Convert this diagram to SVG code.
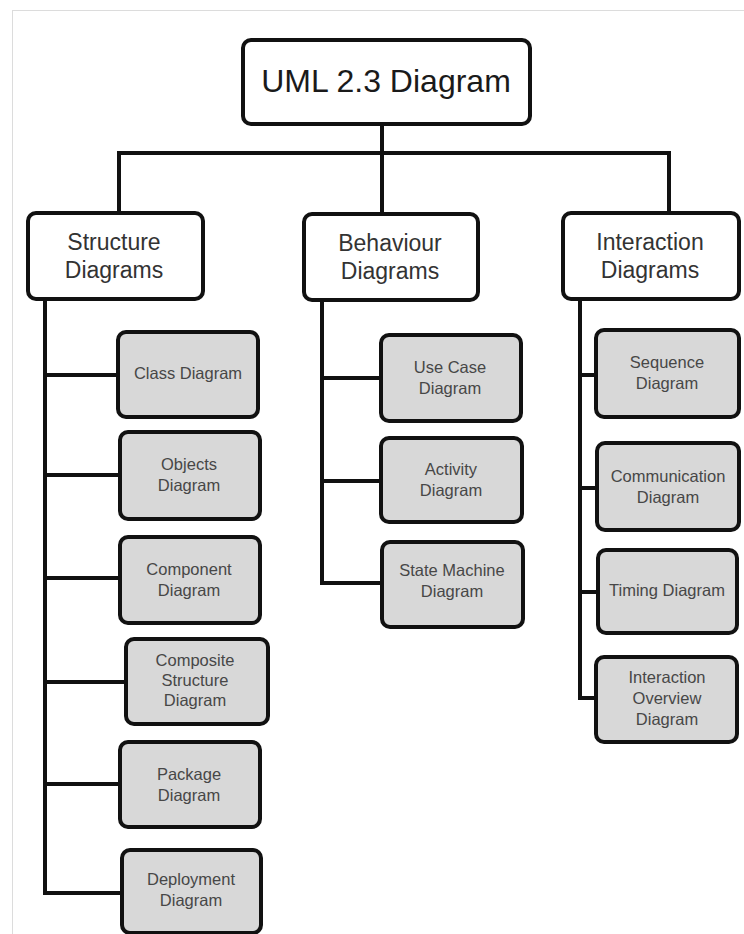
<svg xmlns="http://www.w3.org/2000/svg" width="744" height="934" viewBox="0 0 744 934">
  <style>
    .frame { fill: #ffffff; stroke: #dcdcdc; stroke-width: 1; }
    .box { fill: #ffffff; stroke: #111111; stroke-width: 4; }
    .leaf { fill: #d8d8d8; stroke: #111111; stroke-width: 4; }
    .wire { fill: none; stroke: #111111; stroke-width: 4; stroke-linecap: square; }
    text { font-family: "Liberation Sans", Arial, sans-serif; text-anchor: middle; }
    .title { font-size: 32px; fill: #1a1a1a; }
    .group { font-size: 23px; fill: #333333; }
    .item { font-size: 16.5px; fill: #474747; }
  </style>

  <rect class="frame" x="12.5" y="10.5" width="740" height="930"/>

  <!-- connectors -->
  <g id="connectors">
    <path class="wire" d="M382 124 V153 M119 153 H669 M119 153 V213 M382 153 V213 M669 153 V213"/>
    <!-- structure branch -->
    <path class="wire" d="M45 299 V893 M45 375 H118 M45 475 H120 M45 578 H120 M45 682 H126 M45 784 H120 M45 893 H122"/>
    <!-- behaviour branch -->
    <path class="wire" d="M322 300 V583 M322 378 H381 M322 481 H381 M322 583 H382"/>
    <!-- interaction branch -->
    <path class="wire" d="M580 299 V698 M580 375 H596 M580 488 H597 M580 592 H598 M580 698 H596"/>
  </g>

  <!-- root -->
  <g id="uml">
    <rect class="box" x="243" y="40" width="287" height="84" rx="8"/>
    <text class="title" x="386" y="92">UML 2.3 Diagram</text>
  </g>

  <!-- categories -->
  <g id="structure">
    <rect class="box" x="28" y="213" width="175" height="86" rx="8"/>
    <text class="group" x="114" y="250">Structure</text>
    <text class="group" x="114" y="278">Diagrams</text>
  </g>
  <g id="behaviour">
    <rect class="box" x="304" y="214" width="174" height="86" rx="8"/>
    <text class="group" x="390" y="251">Behaviour</text>
    <text class="group" x="390" y="279">Diagrams</text>
  </g>
  <g id="interaction">
    <rect class="box" x="563" y="213" width="176" height="86" rx="8"/>
    <text class="group" x="650" y="250">Interaction</text>
    <text class="group" x="650" y="278">Diagrams</text>
  </g>

  <!-- structure diagrams -->
  <g id="class">
    <rect class="leaf" x="118" y="332" width="140" height="85" rx="8"/>
    <text class="item" x="188" y="379">Class Diagram</text>
  </g>
  <g id="objects">
    <rect class="leaf" x="120" y="432" width="140" height="87" rx="8"/>
    <text class="item" x="189" y="470">Objects</text>
    <text class="item" x="189" y="491">Diagram</text>
  </g>
  <g id="component">
    <rect class="leaf" x="120" y="537" width="140" height="86" rx="8"/>
    <text class="item" x="189" y="575">Component</text>
    <text class="item" x="189" y="596">Diagram</text>
  </g>
  <g id="composite">
    <rect class="leaf" x="126" y="639" width="142" height="85" rx="8"/>
    <text class="item" x="195" y="666">Composite</text>
    <text class="item" x="195" y="686">Structure</text>
    <text class="item" x="195" y="706">Diagram</text>
  </g>
  <g id="package">
    <rect class="leaf" x="120" y="742" width="140" height="85" rx="8"/>
    <text class="item" x="189" y="780">Package</text>
    <text class="item" x="189" y="801">Diagram</text>
  </g>
  <g id="deployment">
    <rect class="leaf" x="122" y="850" width="139" height="83" rx="8"/>
    <text class="item" x="191" y="885">Deployment</text>
    <text class="item" x="191" y="906">Diagram</text>
  </g>

  <!-- behaviour diagrams -->
  <g id="usecase">
    <rect class="leaf" x="381" y="335" width="140" height="86" rx="8"/>
    <text class="item" x="450" y="373">Use Case</text>
    <text class="item" x="450" y="394">Diagram</text>
  </g>
  <g id="activity">
    <rect class="leaf" x="381" y="438" width="141" height="84" rx="8"/>
    <text class="item" x="451" y="475">Activity</text>
    <text class="item" x="451" y="496">Diagram</text>
  </g>
  <g id="statemachine">
    <rect class="leaf" x="382" y="542" width="141" height="85" rx="8"/>
    <text class="item" x="452" y="576">State Machine</text>
    <text class="item" x="452" y="597">Diagram</text>
  </g>

  <!-- interaction diagrams -->
  <g id="sequence">
    <rect class="leaf" x="596" y="330" width="143" height="87" rx="8"/>
    <text class="item" x="667" y="368">Sequence</text>
    <text class="item" x="667" y="389">Diagram</text>
  </g>
  <g id="communication">
    <rect class="leaf" x="597" y="443" width="142" height="87" rx="8"/>
    <text class="item" x="668" y="482">Communication</text>
    <text class="item" x="668" y="503">Diagram</text>
  </g>
  <g id="timing">
    <rect class="leaf" x="598" y="550" width="139" height="83" rx="8"/>
    <text class="item" x="667" y="596">Timing Diagram</text>
  </g>
  <g id="overview">
    <rect class="leaf" x="596" y="657" width="141" height="85" rx="8"/>
    <text class="item" x="667" y="683">Interaction</text>
    <text class="item" x="667" y="704">Overview</text>
    <text class="item" x="667" y="725">Diagram</text>
  </g>
</svg>
